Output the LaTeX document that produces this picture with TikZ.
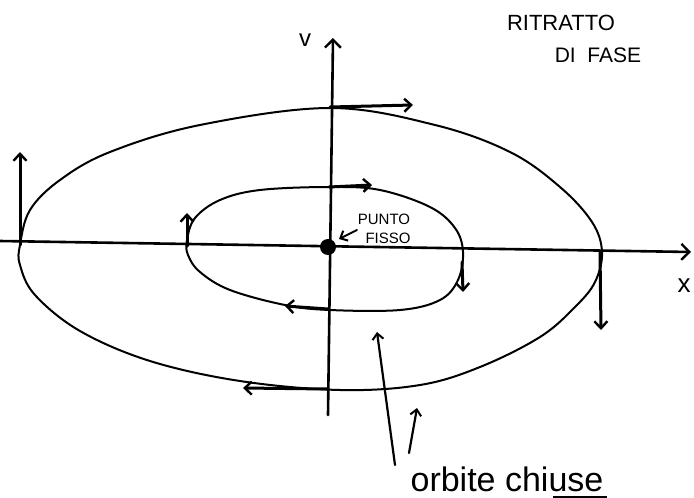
\documentclass[tikz,border=0pt]{standalone}
\usepackage{fontspec}
\setmainfont{Liberation Sans}
\usetikzlibrary{arrows.meta}
\begin{document}
\begin{tikzpicture}[x=1pt,y=-1pt,
  axis/.style={line width=2.6pt, line cap=round, -{Straight Barb[length=8pt,width=16pt,line width=2.4pt]}},
  orbit/.style={line width=2pt},
  flow/.style={line width=3pt, line cap=round, -{Straight Barb[length=7pt,width=13pt,line width=2.4pt]}},
  thin/.style={line width=2.2pt, line cap=round, -{Straight Barb[length=6pt,width=11pt,line width=2pt]}},
  lbl/.style={inner sep=0pt}]
\useasboundingbox (0,0) rectangle (694,498);
% axes
\coordinate (xL) at (0,241);
\coordinate (xR) at (691,252);
\coordinate (vB) at (328,415);
\coordinate (vT) at (333,38);
\draw[axis] (xL) -- (xR);
\draw[axis] (vB) -- (vT);
\node[lbl, font=\fontsize{26}{26}\selectfont] (xlab) at (684,286) {x};
\node[lbl, font=\fontsize{24}{24}\selectfont] (vlab) at (305,40) {v};
% outer orbit
\draw[orbit] plot[smooth cycle, tension=0.6] coordinates {
 (20,245) (30,210) (60,180) (110,152) (200,125) (330,108) (435,125) (510,152)
 (560,187) (592,222) (602,252) (595,282) (575,307) (540,337) (480,367) (420,385)
 (340,390) (240,381) (150,361) (80,331) (35,295) (20,265)};
% inner orbit
\draw[orbit] plot[smooth cycle, tension=0.6] coordinates {
 (187,240) (195,218) (220,200) (260,190) (330,187) (380,190) (430,207) (455,228)
 (463,252) (458,280) (440,300) (400,310) (330,310) (285,305) (230,290) (200,272) (188,255)};
% fixed point
\node[circle, fill, inner sep=0pt, minimum size=16pt] (fp) at (328,247) {};
\node[lbl, font=\fontsize{15}{15}\selectfont] (punto) at (384,219) {PUNTO};
\node[lbl, font=\fontsize{15}{15}\selectfont] (fisso) at (388,238) {FISSO};
\coordinate (fpa) at (357,230);
\coordinate (fpb) at (339,239);
\draw[thin, line width=1.8pt] (fpa) -- (fpb);
% outer flow arrows
\coordinate (o1s) at (330,107); \coordinate (o1e) at (413,105);
\coordinate (o2s) at (20,245);  \coordinate (o2e) at (20,152);
\coordinate (o3s) at (600,252); \coordinate (o3e) at (601,330);
\coordinate (o4s) at (328,389); \coordinate (o4e) at (243,388);
\draw[flow] (o1s) -- (o1e);
\draw[flow] (o2s) -- (o2e);
\draw[flow] (o3s) -- (o3e);
\draw[flow] (o4s) -- (o4e);
% inner flow arrows
\coordinate (i1s) at (329,187); \coordinate (i1e) at (372,185);
\coordinate (i2s) at (187,246); \coordinate (i2e) at (187,213);
\coordinate (i3s) at (462,262); \coordinate (i3e) at (463,292);
\coordinate (i4s) at (328,309); \coordinate (i4e) at (285,306);
\draw[flow] (i1s) -- (i1e);
\draw[flow] (i2s) -- (i2e);
\draw[flow] (i3s) -- (i3e);
\draw[flow] (i4s) -- (i4e);
% labels
\node[lbl, font=\fontsize{22}{22}\selectfont] (t1) at (561,23) {RITRATTO};
\node[lbl, font=\fontsize{21}{21}\selectfont] (t2) at (598,55) {DI\ \ FASE};
\node[lbl, font=\fontsize{34}{34}\selectfont, anchor=base] (oc) at (507,491) {orbite chiuse};
\coordinate (a1s) at (395,465); \coordinate (a1e) at (377,332);
\coordinate (a2s) at (409,453); \coordinate (a2e) at (417,408);
\draw[thin] (a1s) -- (a1e);
\draw[thin] (a2s) -- (a2e);
\coordinate (u1) at (553,497); \coordinate (u2) at (607,497);
\draw[line width=3pt] (u1) -- (u2);
\end{tikzpicture}
\end{document}
